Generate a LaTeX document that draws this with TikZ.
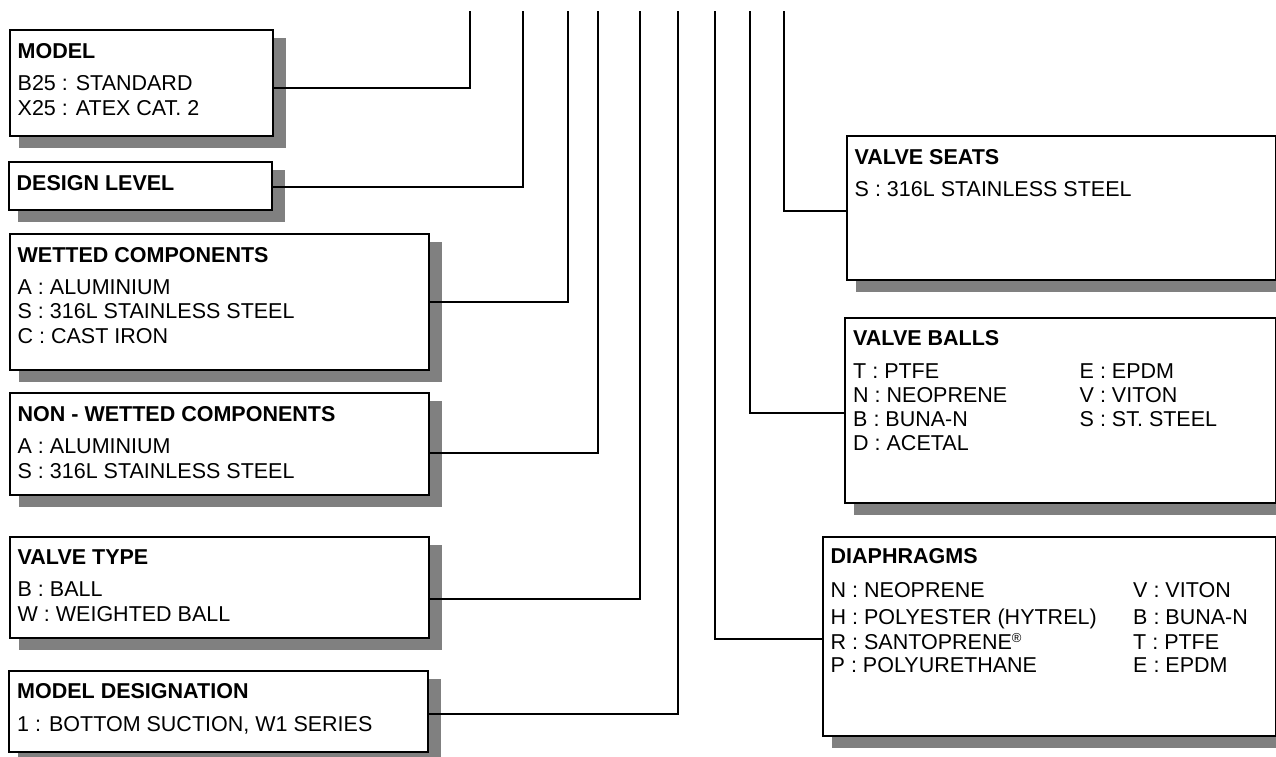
\documentclass[tikz,border=0pt]{standalone}
\usepackage{fontspec}
\setmainfont{Liberation Sans}
\usetikzlibrary{calc,backgrounds}
\definecolor{shadowgray}{HTML}{808080}
\tikzset{
  box/.style={draw=black, line width=2pt, fill=white, rectangle, inner sep=0pt, outer sep=0pt, anchor=north west},
  txt/.style={anchor=base west, inner sep=0pt, font=\fontsize{21.5}{25}\selectfont},
  ttl/.style={anchor=base west, inner sep=0pt, font=\fontsize{21.5}{25}\selectfont\bfseries},
  wire/.style={draw=black, line width=2pt, line join=miter},
  shade/.style={fill=shadowgray}
}
\newcommand\boxshadow[1]{\fill[shade] ($(#1.south west)+(9,12)$) rectangle ($(#1.north east)+(13,8)$);}
\begin{document}
\begin{tikzpicture}[x=1pt,y=-1pt]
\useasboundingbox (0,0) rectangle (1276,756);

% ---------- boxes ----------
\node[box, minimum width=263pt, minimum height=106pt] (model) at (10,30) {};
\node[box, minimum width=263pt, minimum height=48pt] (design) at (9,162) {};
\node[box, minimum width=419pt, minimum height=136pt] (wetted) at (10,234) {};
\node[box, minimum width=419pt, minimum height=102pt] (nonwet) at (10,393) {};
\node[box, minimum width=419pt, minimum height=101pt] (vtype) at (10,537) {};
\node[box, minimum width=419pt, minimum height=81pt] (mdes) at (9,671) {};
\node[box, minimum width=429pt, minimum height=144pt] (seats) at (847,136) {};
\node[box, minimum width=431pt, minimum height=185pt] (balls) at (845,318) {};
\node[box, minimum width=453pt, minimum height=199pt] (diaph) at (823,537) {};

\begin{pgfonlayer}{background}
\fill[white] (0,0) rectangle (1276,756);
\boxshadow{model}
\boxshadow{design}
\boxshadow{wetted}
\boxshadow{nonwet}
\boxshadow{vtype}
\boxshadow{mdes}
\boxshadow{seats}
\boxshadow{balls}
\boxshadow{diaph}
\end{pgfonlayer}

% ---------- texts ----------
\node[ttl] (model-t) at (17.5,58.7) {MODEL};
\node[txt] (model-1) at (17.5,90) {B25 : STANDARD};
\node[txt] (model-2) at (17.5,115) {X25 : ATEX CAT. 2};

\node[ttl] (design-t) at (16.5,190) {DESIGN LEVEL};

\node[ttl] (wetted-t) at (17.5,262.3) {WETTED COMPONENTS};
\node[txt] (wetted-1) at (17.5,294) {A : ALUMINIUM};
\node[txt] (wetted-2) at (17.5,318.5) {S : 316L STAINLESS STEEL};
\node[txt] (wetted-3) at (17.5,343) {C : CAST IRON};

\node[ttl] (nonwet-t) at (17.5,421.7) {NON - WETTED COMPONENTS};
\node[txt] (nonwet-1) at (17.5,453.5) {A : ALUMINIUM};
\node[txt] (nonwet-2) at (17.5,478) {S : 316L STAINLESS STEEL};

\node[ttl] (vtype-t) at (17.5,564) {VALVE TYPE};
\node[txt] (vtype-1) at (17.5,596.7) {B : BALL};
\node[txt] (vtype-2) at (17.5,621) {W : WEIGHTED BALL};

\node[ttl] (mdes-t) at (17,698.3) {MODEL DESIGNATION};
\node[txt] (mdes-1) at (17,731.7) {1 : BOTTOM SUCTION, W1 SERIES};

\node[ttl] (seats-t) at (854.5,164) {VALVE SEATS};
\node[txt] (seats-1) at (854.5,196) {S : 316L STAINLESS STEEL};

\node[ttl] (balls-t) at (853,345) {VALVE BALLS};
\node[txt] (balls-1) at (853,378.3) {T : PTFE};
\node[txt] (balls-2) at (853,402.3) {N : NEOPRENE};
\node[txt] (balls-3) at (853,426.7) {B : BUNA-N};
\node[txt] (balls-4) at (853,450.7) {D : ACETAL};
\node[txt] (balls-5) at (1079.5,378.3) {E : EPDM};
\node[txt] (balls-6) at (1079.5,402.3) {V : VITON};
\node[txt] (balls-7) at (1079.5,426.7) {S : ST. STEEL};

\node[ttl] (diaph-t) at (830.5,563.3) {DIAPHRAGMS};
\node[txt] (diaph-1) at (830.5,597.3) {N : NEOPRENE};
\node[txt] (diaph-2) at (830.5,624) {H : POLYESTER (HYTREL)};
\node[txt] (diaph-3) at (830.5,649) {R : SANTOPRENE{\fontsize{13}{13}\selectfont\raisebox{7pt}{®}}};
\node[txt] (diaph-4) at (830.5,672.7) {P : POLYURETHANE};
\node[txt] (diaph-5) at (1133,597.3) {V : VITON};
\node[txt] (diaph-6) at (1133,624) {B : BUNA-N};
\node[txt] (diaph-7) at (1133,649) {T : PTFE};
\node[txt] (diaph-8) at (1133,672.7) {E : EPDM};

% ---------- connectors ----------
\coordinate (t1) at (470,11);   \coordinate (j1) at (470,88);
\coordinate (t2) at (523,11);   \coordinate (j2) at (523,186.5);
\coordinate (t3) at (568,11);   \coordinate (j3) at (568,301.5);
\coordinate (t4) at (598,11);   \coordinate (j4) at (598,453);
\coordinate (t5) at (640,11);   \coordinate (j5) at (640,598.5);
\coordinate (t6) at (677.5,11); \coordinate (j6) at (677.5,714);
\coordinate (t7) at (715,11);   \coordinate (j7) at (715,639);
\coordinate (t8) at (749.5,11); \coordinate (j8) at (749.5,412.7);
\coordinate (t9) at (783.5,11); \coordinate (j9) at (783.5,211);

\draw[wire] (t1) -- (j1) -- (model.east |- j1);
\draw[wire] (t2) -- (j2) -- (design.east |- j2);
\draw[wire] (t3) -- (j3) -- (wetted.east |- j3);
\draw[wire] (t4) -- (j4) -- (nonwet.east |- j4);
\draw[wire] (t5) -- (j5) -- (vtype.east |- j5);
\draw[wire] (t6) -- (j6) -- (mdes.east |- j6);
\draw[wire] (t7) -- (j7) -- (diaph.west |- j7);
\draw[wire] (t8) -- (j8) -- (balls.west |- j8);
\draw[wire] (t9) -- (j9) -- (seats.west |- j9);
\end{tikzpicture}
\end{document}
